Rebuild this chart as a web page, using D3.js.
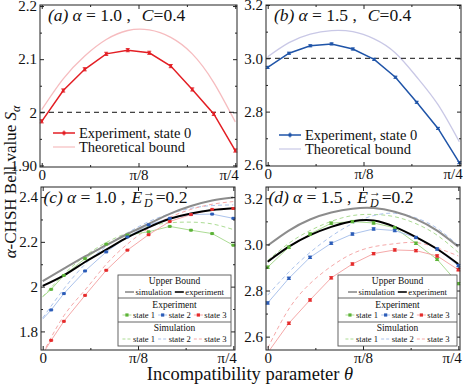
<!DOCTYPE html>
<html>
<head>
<meta charset="UTF-8">
<script src="https://cdn.jsdelivr.net/npm/d3@7"></script>
<style>
  body { margin: 0; background: #fff; }
  svg, svg text { font-family: "Liberation Serif", "Times New Roman", Tinos, "DejaVu Serif", serif; }
</style>
</head>
<body>
<svg width="463" height="385"></svg>
<script>
// theta in degrees (pi/4 = 45)
const thetaDeg = [0, 5, 10, 15, 20, 25, 30, 35, 40, 45];
const xTicks = [0, 22.5, 45];
const xTickLabels = ['0', 'π/8', 'π/4'];
const xMinor = [11.25, 33.75];

// (a) alpha = 1.0, C = 0.4
const aExp = [1.983, 2.041, 2.081, 2.110, 2.117, 2.112, 2.087, 2.043, 1.997, 1.928];
const aBound = [2.005, 2.063, 2.106, 2.137, 2.154, 2.155, 2.141, 2.110, 2.056, 1.982];
// (b) alpha = 1.5, C = 0.4
const bExp = [2.966, 3.019, 3.047, 3.054, 3.035, 2.996, 2.929, 2.835, 2.737, 2.609];
const bBound = [3.006, 3.059, 3.091, 3.104, 3.100, 3.073, 3.020, 2.930, 2.826, 2.687];

// (c) alpha = 1.0, E = 0.2
const cExpTheta = [2, 5, 10, 15, 20, 25, 30, 35, 40, 45];
const cExpGreen = [1.988, 2.050, 2.125, 2.190, 2.230, 2.245, 2.269, 2.252, 2.237, 2.185];
const cExpBlue = [1.896, 1.969, 2.070, 2.155, 2.222, 2.276, 2.305, 2.322, 2.324, 2.305];
const cExpRed = [1.760, 1.845, 1.961, 2.073, 2.163, 2.232, 2.291, 2.322, 2.345, 2.349];
const cLineStart = [1.955, 1.855, 1.700];
const cSimGreen = [1.955, 2.055, 2.137, 2.197, 2.240, 2.270, 2.285, 2.288, 2.280, 2.255];
const cSimBlue = [1.860, 1.990, 2.100, 2.180, 2.240, 2.290, 2.325, 2.350, 2.362, 2.365];
const cSimRed = [1.700, 1.870, 1.985, 2.100, 2.190, 2.260, 2.310, 2.345, 2.368, 2.380];
const cUpperSim = [2.025, 2.080, 2.135, 2.185, 2.235, 2.280, 2.325, 2.360, 2.385, 2.398];
const cUpperExp = [2.003, 2.050, 2.110, 2.165, 2.220, 2.265, 2.303, 2.327, 2.342, 2.350];

// (d) alpha = 1.5, E = 0.2
const dExpGreen = [2.901, 2.988, 3.045, 3.092, 3.099, 3.093, 3.072, 3.005, 2.935, 2.830];
const dExpBlue = [2.746, 2.853, 2.944, 3.005, 3.045, 3.067, 3.060, 3.030, 2.980, 2.908];
const dExpRedTheta = [5, 10, 15, 20, 25, 30, 35, 40, 45];
const dExpRed = [2.658, 2.759, 2.855, 2.915, 2.960, 2.976, 2.973, 2.950, 2.890];
const dRedStart = 2.53;
const dSimGreen = [2.930, 3.005, 3.060, 3.100, 3.125, 3.130, 3.120, 3.090, 3.040, 2.965];
const dSimBlue = [2.780, 2.880, 2.965, 3.035, 3.090, 3.125, 3.135, 3.115, 3.070, 2.995];
const dSimRed = [2.550, 2.720, 2.830, 2.905, 2.960, 2.990, 3.003, 3.008, 2.985, 2.950];
const dUpperSim = [2.995, 3.060, 3.108, 3.138, 3.155, 3.158, 3.142, 3.110, 3.060, 2.990];
const dUpperExp = [2.925, 2.990, 3.040, 3.076, 3.100, 3.104, 3.076, 3.032, 2.980, 2.915];

const col = {
  red: '#e31e24', pink: '#f6bcbf', blue: '#1f54a8', lav: '#c9c8e6',
  g: '#5cb337', gL: '#acdc94', b: '#2b5cb8', bL: '#abc3ec', r: '#e52b2b', rL: '#f5a9a9',
  gray: '#8c8c8c'
};
const serif = '"Liberation Serif", "Times New Roman", Tinos, "DejaVu Serif", serif';

const svg = d3.select('svg').attr('font-family', serif);
const xDomain = [-0.4, 45.4];

function panel(id, frame, yDom, yTicks, yLabels, yMinor) {
  const [x0, y0, x1, y1] = frame;
  const W = x1 - x0, H = y1 - y0;
  const g = svg.append('g').attr('transform', `translate(${x0},${y0})`);
  const x = d3.scaleLinear().domain(xDomain).range([0, W]);
  const y = d3.scaleLinear().domain(yDom).range([H, 0]);
  g.append('clipPath').attr('id', 'clip' + id)
    .append('rect').attr('width', W).attr('height', H);
  const plot = g.append('g').attr('clip-path', `url(#clip${id})`);
  const top = g.append('g');

  const fmt = d => yLabels[yTicks.indexOf(d)];
  const ax = (sel) => sel.attr('font-family', serif)
    .call(s => s.select('.domain').remove())
    .selectAll('line').attr('stroke', '#222');
  g.append('g').call(d3.axisLeft(y).tickValues(yTicks).tickFormat(fmt).tickSize(-4).tickPadding(3)).call(ax);
  g.append('g').call(d3.axisLeft(y).tickValues(yMinor).tickFormat('').tickSize(-2)).call(ax);
  g.append('g').attr('transform', `translate(${W},0)`)
    .call(d3.axisRight(y).tickValues(yTicks).tickFormat('').tickSize(-4)).call(ax);
  g.append('g').attr('transform', `translate(${W},0)`)
    .call(d3.axisRight(y).tickValues(yMinor).tickFormat('').tickSize(-2)).call(ax);
  const bx = g.append('g').attr('transform', `translate(0,${H})`)
    .call(d3.axisBottom(x).tickValues(xTicks).tickFormat((d, i) => xTickLabels[i]).tickSize(-4).tickPadding(2))
    .call(ax);
  bx.selectAll('text').filter(d => d === 45).attr('text-anchor', 'end').attr('dx', 3);
  g.append('g').attr('transform', `translate(0,${H})`)
    .call(d3.axisBottom(x).tickValues(xMinor).tickFormat('').tickSize(-2)).call(ax);
  g.append('g').call(d3.axisTop(x).tickValues(xTicks).tickFormat('').tickSize(-4)).call(ax);
  g.append('g').call(d3.axisTop(x).tickValues(xMinor).tickFormat('').tickSize(-2)).call(ax);
  g.selectAll('.tick text').attr('font-size', 15).attr('fill', '#111');

  g.append('rect').attr('width', W).attr('height', H)
    .attr('fill', 'none').attr('stroke', '#222').attr('stroke-width', 1);
  return { g, plot, top, x, y, W, H };
}

function line(p, th, vals, color, w, opts = {}) {
  const ln = d3.line().x(d => p.x(d[0])).y(d => p.y(d[1]))
    .curve(opts.curve || d3.curveLinear);
  p.plot.append('path').datum(d3.zip(th, vals))
    .attr('d', ln).attr('fill', 'none').attr('stroke', color)
    .attr('stroke-width', w).attr('stroke-dasharray', opts.dash || null);
}

function markers(p, th, vals, err, color, s) {
  const gs = p.top.selectAll(null).data(d3.zip(th, vals)).join('g')
    .attr('transform', d => `translate(${p.x(d[0])},${p.y(d[1])})`);
  const e = d => p.y(d[1] - err) - p.y(d[1]);
  gs.append('line').attr('y1', e).attr('y2', d => -e(d)).attr('stroke', color).attr('stroke-width', 0.9);
  [1, -1].forEach(sg => gs.append('line').attr('x1', -2).attr('x2', 2)
    .attr('y1', d => sg * e(d)).attr('y2', d => sg * e(d)).attr('stroke', color).attr('stroke-width', 0.9));
  gs.append('rect').attr('x', -s / 2).attr('y', -s / 2).attr('width', s).attr('height', s).attr('fill', color);
}

function title(p, letter, alpha, useE, val) {
  const t = p.g.append('text').attr('x', useE ? 2.5 : 8).attr('y', useE ? 16 : 15.5)
    .attr('font-size', 17.5).attr('fill', '#111');
  t.append('tspan').attr('font-style', 'italic').text(`(${letter})`);
  t.append('tspan').attr('font-style', 'italic').attr('dx', 4).text('α');
  t.append('tspan').text(` = ${alpha} ,`);
  if (useE) {
    t.append('tspan').attr('font-style', 'italic').attr('dx', 6).text('E');
    const ar = t.append('tspan').attr('font-size', 12).attr('dy', -7).attr('dx', 1).text('→');
    const aw = ar.node().getComputedTextLength();
    t.append('tspan').attr('font-size', 12).attr('font-style', 'italic').attr('dy', 11).attr('dx', -aw + 1).text('D');
    t.append('tspan').attr('dy', -4).attr('dx', 3).text('=' + val);
  } else {
    t.append('tspan').attr('font-style', 'italic').attr('dx', 11).text('C');
    t.append('tspan').text('=' + val);
  }
}

function simpleLegend(p, c1, c2, ly) {
  const items = [['Experiment, state 0', c1, 1.5, true], ['Theoretical bound', c2, 1.2, false]];
  items.forEach((it, i) => {
    const yy = ly + i * 14;
    p.g.append('line').attr('x1', 13).attr('x2', 35).attr('y1', yy).attr('y2', yy)
      .attr('stroke', it[1]).attr('stroke-width', it[2]);
    if (it[3]) {
      p.g.append('rect').attr('x', 22.5).attr('y', yy - 1.5).attr('width', 3).attr('height', 3).attr('fill', it[1]);
      p.g.append('line').attr('x1', 24).attr('x2', 24).attr('y1', yy - 2.5).attr('y2', yy + 2.5).attr('stroke', it[1]);
    }
    p.g.append('text').attr('x', 39).attr('y', yy).attr('dy', '0.33em')
      .attr('font-size', 14.5).attr('fill', '#111').text(it[0]);
  });
}

function boxLegend(L, T, R) {
  const B = T + 71, cx = (L + R) / 2, fs = 8.6;
  const g = svg.append('g');
  g.append('rect').attr('x', L).attr('y', T).attr('width', R - L).attr('height', B - T)
    .attr('fill', '#fff').attr('stroke', '#555').attr('stroke-width', 0.9);
  [T + 23, T + 47].forEach(yy => g.append('line').attr('x1', L).attr('x2', R)
    .attr('y1', yy).attr('y2', yy).attr('stroke', '#555').attr('stroke-width', 0.9));
  [['Upper Bound', T + 6], ['Experiment', T + 29.5], ['Simulation', T + 52.5]].forEach(h =>
    g.append('text').attr('x', cx).attr('y', h[1]).attr('dy', '0.35em').attr('text-anchor', 'middle')
      .attr('font-size', 9.5).attr('fill', '#111').text(h[0]));

  function row(yy, items) {
    // measure and center
    const tmp = items.map(it => {
      const t = g.append('text').attr('font-size', fs).text(it.label);
      const w = t.node().getComputedTextLength(); t.remove(); return w;
    });
    const sw = 9, gap = 1.5, sp = 3;
    const total = d3.sum(tmp) + items.length * (sw + gap) + (items.length - 1) * sp;
    let xx = cx - total / 2;
    items.forEach((it, i) => {
      g.append('line').attr('x1', xx).attr('x2', xx + sw).attr('y1', yy).attr('y2', yy)
        .attr('stroke', it.color).attr('stroke-width', it.w).attr('stroke-dasharray', it.dash || null);
      if (it.mk) g.append('rect').attr('x', xx + sw / 2 - 1.6).attr('y', yy - 1.6).attr('width', 3.2).attr('height', 3.2).attr('fill', it.mk);
      g.append('text').attr('x', xx + sw + gap).attr('y', yy).attr('dy', '0.33em')
        .attr('font-size', fs).attr('fill', '#111').text(it.label);
      xx += sw + gap + tmp[i] + sp;
    });
  }
  row(T + 17, [{ label: 'simulation', color: col.gray, w: 1.6 }, { label: 'experiment', color: '#000', w: 1.6 }]);
  row(T + 40, [{ label: 'state 1', color: col.gL, w: 1, mk: col.g }, { label: 'state 2', color: col.bL, w: 1, mk: col.b },
    { label: 'state 3', color: col.rL, w: 1, mk: col.r }]);
  row(T + 64, [{ label: 'state 1', color: col.gL, w: 1, dash: '3,2' }, { label: 'state 2', color: col.bL, w: 1, dash: '3,2' },
    { label: 'state 3', color: col.rL, w: 1, dash: '3,2' }]);
}

// ---- (a)
const pa = panel('a', [40, 5, 237, 167], [1.897, 2.202], [1.9, 2, 2.1, 2.2], ['1.90', '2', '2.1', '2.2'], [1.95, 2.05, 2.15]);
line(pa, thetaDeg, aBound, col.pink, 1.3, { curve: d3.curveNatural });
pa.plot.append('line').attr('x1', 0).attr('x2', pa.W).attr('y1', pa.y(2)).attr('y2', pa.y(2))
  .attr('stroke', '#111').attr('stroke-width', 1).attr('stroke-dasharray', '5,4');
line(pa, thetaDeg, aExp, col.red, 1.5);
markers(pa, thetaDeg, aExp, 0.003, col.red, 2.6);
title(pa, 'a', '1.0', false, '0.4');
simpleLegend(pa, col.red, col.pink, 128);

// ---- (b)
const pb = panel('b', [266, 5, 461, 166], [2.596, 3.2], [2.6, 2.8, 3.0, 3.2], ['2.6', '2.8', '3.0', '3.2'], [2.7, 2.9, 3.1]);
line(pb, thetaDeg, bBound, col.lav, 1.3, { curve: d3.curveNatural });
pb.plot.append('line').attr('x1', 0).attr('x2', pb.W).attr('y1', pb.y(3)).attr('y2', pb.y(3))
  .attr('stroke', '#111').attr('stroke-width', 1).attr('stroke-dasharray', '5,4');
line(pb, thetaDeg, bExp, col.blue, 1.5);
markers(pb, thetaDeg, bExp, 0.004, col.blue, 2.6);
title(pb, 'b', '1.5', false, '0.4');
simpleLegend(pb, col.blue, col.lav, 130);

// ---- (c)
const pc = panel('c', [41, 187, 235, 350], [1.717, 2.445], [1.8, 2.0, 2.2, 2.4], ['1.8', '2', '2.2', '2.4'], [1.9, 2.1, 2.3]);
[[cSimGreen, col.gL], [cSimBlue, col.bL], [cSimRed, col.rL]].forEach(s =>
  line(pc, thetaDeg, s[0], s[1], 1, { curve: d3.curveNatural, dash: '4,3' }));
[[cExpGreen, col.gL, 0], [cExpBlue, col.bL, 1], [cExpRed, col.rL, 2]].forEach(s =>
  line(pc, [0].concat(cExpTheta), [cLineStart[s[2]]].concat(s[0]), s[1], 1));
line(pc, thetaDeg, cUpperSim, col.gray, 2, { curve: d3.curveNatural });
line(pc, thetaDeg, cUpperExp, '#000', 2, { curve: d3.curveNatural });
markers(pc, cExpTheta, cExpGreen, 0.002, col.g, 3);
markers(pc, cExpTheta, cExpBlue, 0.002, col.b, 3);
markers(pc, cExpTheta, cExpRed, 0.002, col.r, 3);
title(pc, 'c', '1.0', true, '0.2');

// ---- (d)
const pd = panel('d', [266, 187, 460, 350], [2.542, 3.249], [2.6, 2.8, 3.0, 3.2], ['2.6', '2.8', '3.0', '3.2'], [2.7, 2.9, 3.1]);
[[dSimGreen, col.gL], [dSimBlue, col.bL], [dSimRed, col.rL]].forEach(s =>
  line(pd, thetaDeg, s[0], s[1], 1, { curve: d3.curveNatural, dash: '4,3' }));
line(pd, thetaDeg, dExpGreen, col.gL, 1);
line(pd, thetaDeg, dExpBlue, col.bL, 1);
line(pd, [0].concat(dExpRedTheta), [dRedStart].concat(dExpRed), col.rL, 1);
line(pd, thetaDeg, dUpperSim, col.gray, 2, { curve: d3.curveNatural });
line(pd, thetaDeg, dUpperExp, '#000', 2, { curve: d3.curveNatural });
markers(pd, thetaDeg, dExpGreen, 0.005, col.g, 3);
markers(pd, thetaDeg, dExpBlue, 0.005, col.b, 3);
markers(pd, dExpRedTheta, dExpRed, 0.005, col.r, 3);
title(pd, 'd', '1.5', true, '0.2');

boxLegend(118, 275, 231);
boxLegend(338, 275, 457);

// axis titles
const yt = svg.append('text').attr('transform', 'translate(16,182) rotate(-90)')
  .attr('text-anchor', 'middle').attr('font-size', 17).attr('fill', '#111');
yt.append('tspan').attr('font-style', 'italic').text('α');
yt.append('tspan').text('-CHSH Bell value ');
yt.append('tspan').attr('font-style', 'italic').text('S');
yt.append('tspan').attr('font-style', 'italic').attr('font-size', 12).attr('dy', 4).text('α');

const xt = svg.append('text').attr('x', 250).attr('y', 380)
  .attr('text-anchor', 'middle').attr('font-size', 18.5).attr('fill', '#111');
xt.append('tspan').text('Incompatibility parameter ');
xt.append('tspan').attr('font-style', 'italic').text('θ');
</script>
</body>
</html>
